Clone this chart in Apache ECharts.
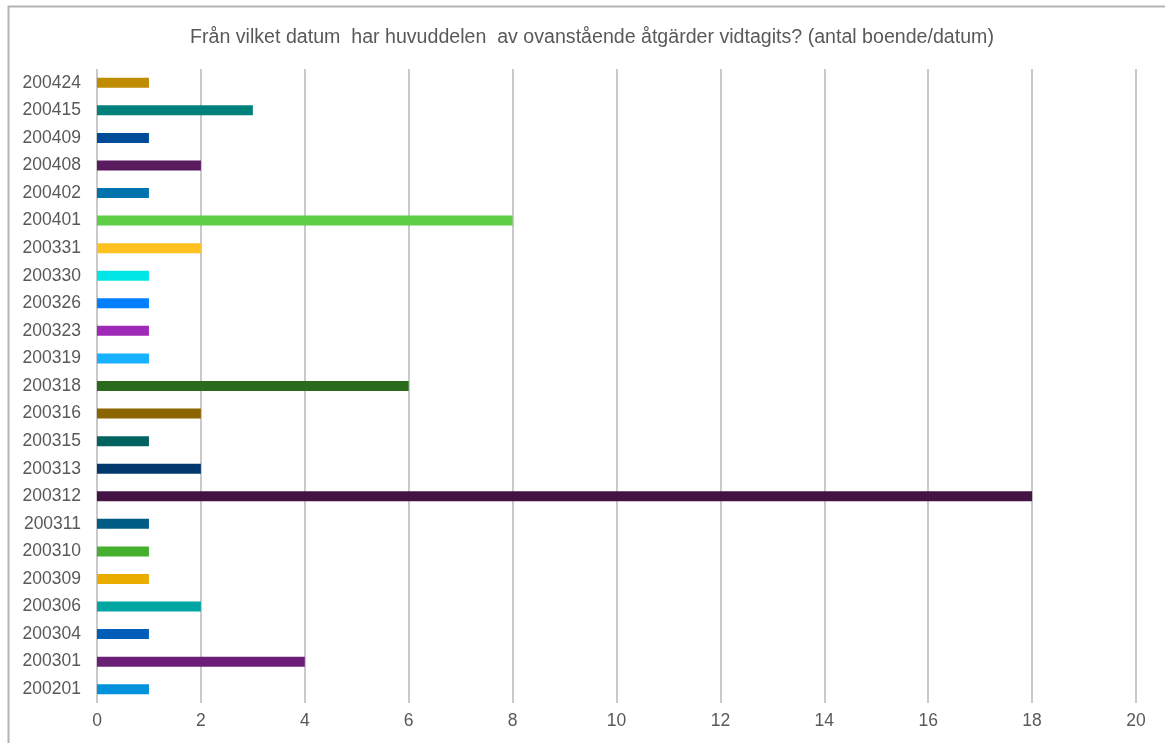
<!DOCTYPE html>
<html>
<head>
<meta charset="utf-8">
<title>Åtgärder per datum</title>
<script src="https://cdn.jsdelivr.net/npm/echarts@6/dist/echarts.min.js"></script>
<style>
  html, body { margin: 0; padding: 0; background: #ffffff; }
  #chart { width: 1165px; height: 743px; }
</style>
</head>
<body>
<div id="chart"></div>
<script>
// Dates, listed from the bottom of the axis upwards
const dates = ['200201', '200301', '200304', '200306', '200309', '200310', '200311', '200312',
  '200313', '200315', '200316', '200318', '200319', '200323', '200326', '200330', '200331',
  '200401', '200402', '200408', '200409', '200415', '200424'];

// Number of residents per date
const counts = [1, 4, 1, 2, 1, 1, 1, 18, 2, 1, 2, 6, 1, 1, 1, 1, 2, 8, 1, 2, 1, 3, 1];

// One colour per bar
const barColors = ['#0093DB', '#6B1F76', '#005EB8', '#00A6A1', '#EBAC00', '#44B02E', '#005B85',
  '#431443', '#00386E', '#00635F', '#8C6500', '#2B6A1C', '#17B2FF', '#A02AB8', '#0080FF',
  '#00E6E6', '#FFC120', '#5DCE45', '#0073AF', '#5A1A5E', '#004C99', '#00807A', '#BF8B00'];

// Value axis ticks
const xTicks = [0, 2, 4, 6, 8, 10, 12, 14, 16, 18, 20];

const titleText = 'Från vilket datum  har huvuddelen  av ovanstående åtgärder vidtagits? (antal boende/datum)';

const fontFamily = 'Liberation Sans, Arial, sans-serif';

const chart = echarts.init(document.getElementById('chart'), null, { renderer: 'canvas' });

chart.setOption({
  backgroundColor: '#ffffff',
  animation: false,
  graphic: [{
    type: 'rect',
    shape: { x: 8.5, y: 6.5, width: 1200, height: 800 },
    style: { fill: 'none', stroke: '#b3b3b3', lineWidth: 2 },
    silent: true
  }],
  title: {
    text: titleText,
    left: 587,
    textAlign: 'center',
    top: 23,
    textStyle: { fontFamily: fontFamily, fontSize: 19.6, fontWeight: 'normal', color: '#595959' }
  },
  grid: { left: 97, right: 29, top: 69, height: 634, containLabel: false },
  xAxis: {
    type: 'value',
    min: xTicks[0],
    max: xTicks[xTicks.length - 1],
    interval: xTicks[1] - xTicks[0],
    axisLine: { show: false },
    axisTick: { show: false },
    splitLine: { show: true, lineStyle: { color: '#c9c9c9', width: 2 } },
    axisLabel: {
      margin: 9,
      fontFamily: fontFamily,
      fontSize: 17.5,
      color: '#595959'
    }
  },
  yAxis: {
    type: 'category',
    data: dates,
    axisLine: { show: false },
    axisTick: { show: false },
    splitLine: { show: false },
    axisLabel: {
      margin: 16,
      fontFamily: fontFamily,
      fontSize: 17.5,
      color: '#595959'
    }
  },
  series: [{
    type: 'bar',
    barWidth: 10,
    data: counts.map((v, i) => ({ value: v, itemStyle: { color: barColors[i] } })),
    itemStyle: { borderWidth: 0 }
  }]
});
</script>
</body>
</html>
